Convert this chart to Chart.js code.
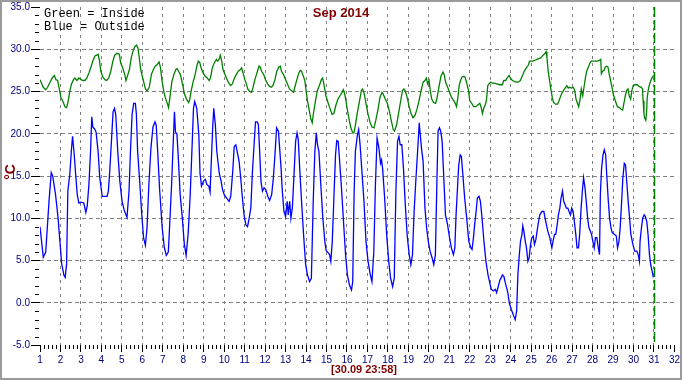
<!DOCTYPE html>
<html><head><meta charset="utf-8">
<script src="https://cdn.jsdelivr.net/npm/chart.js@4.4.1/dist/chart.umd.min.js"></script>
<style>html,body{margin:0;padding:0;background:#fff}#wrap{width:682px;height:380px;position:relative}canvas{display:block}</style>
</head><body><div id="wrap"><canvas id="c" width="682" height="380"></canvas></div>
<script>
const chartTitle = 'Sep 2014';
const stampLabel = '[30.09 23:58]';
const unitLabel = '°C';
const legendLines = ['Green = Inside', 'Blue = Outside'];
const dayTicks = [1,2,3,4,5,6,7,8,9,10,11,12,13,14,15,16,17,18,19,20,21,22,23,24,25,26,27,28,29,30,31,32];
const tempTicks = [-5,0,5,10,15,20,25,30,35];
const markerDay = 31;

const outsideDays = [1.00,1.16,1.28,1.44,1.55,1.62,1.76,1.88,1.97,2.06,2.17,2.23,2.30,2.36,2.46,2.53,2.59,2.66,2.74,2.82,2.90,3.01,3.14,3.24,3.31,3.39,3.47,3.53,3.58,3.66,3.74,3.84,3.92,4.04,4.28,4.34,4.41,4.49,4.57,4.64,4.70,4.80,4.90,5.01,5.12,5.25,5.35,5.42,5.50,5.58,5.66,5.71,5.77,5.87,5.97,6.06,6.15,6.23,6.32,6.42,6.52,6.62,6.68,6.75,6.84,6.97,7.07,7.17,7.27,7.33,7.43,7.53,7.57,7.62,7.69,7.75,7.85,7.95,8.05,8.14,8.24,8.34,8.44,8.50,8.56,8.66,8.76,8.82,8.89,8.99,9.08,9.15,9.25,9.31,9.39,9.44,9.49,9.57,9.64,
9.76,9.84,9.92,10.00,10.11,10.24,10.32,10.41,10.49,10.57,10.65,10.73,10.81,10.89,10.97,11.06,11.14,11.22,11.30,11.38,11.46,11.53,11.61,11.67,11.74,11.80,11.87,11.95,12.03,12.13,12.22,12.32,12.40,12.48,12.56,12.65,12.71,12.78,12.84,12.92,13.00,13.08,13.13,13.20,13.26,13.33,13.41,13.49,13.56,13.62,13.69,13.78,13.88,13.98,14.07,14.17,14.26,14.35,14.43,14.50,14.56,14.63,14.72,14.82,14.92,14.98,15.05,15.15,15.21,15.28,15.36,15.44,15.50,15.57,15.63,15.73,15.83,15.93,16.02,16.12,16.22,16.28,16.35,16.41,16.51,16.57,16.64,16.72,16.83,16.93,17.03,17.14,17.22,17.31,17.39,17.47,17.56,17.64,17.69,17.74,17.84,17.94,18.04,18.13,18.23,18.31,18.39,18.47,18.54,18.60,18.68,18.76,18.84,18.94,19.04,19.12,19.20,19.28,19.37,19.45,
19.53,19.58,19.64,19.72,19.81,19.89,19.97,20.06,20.16,20.24,20.32,20.39,20.45,20.52,20.58,20.65,20.71,20.81,20.91,21.01,21.10,21.20,21.27,21.33,21.40,21.46,21.53,21.59,21.66,21.75,21.85,21.95,22.05,22.11,22.18,22.24,22.31,22.37,22.45,22.52,22.60,22.69,22.79,22.89,22.99,23.05,23.15,23.25,23.31,23.38,23.46,23.54,23.60,23.67,23.73,23.80,23.86,23.93,24.03,24.12,24.22,24.29,24.35,24.42,24.48,24.55,24.59,24.64,24.71,24.77,24.84,24.90,24.97,25.03,25.10,25.16,25.23,25.29,25.36,25.42,25.52,25.62,25.68,25.75,25.81,25.91,26.01,26.07,26.14,26.20,26.27,26.33,26.40,26.46,26.53,26.59,26.66,26.72,26.79,26.85,26.92,26.98,27.05,27.11,27.18,27.24,27.31,27.37,27.44,27.50,27.56,27.63,27.69,27.76,27.82,27.89,27.95,28.01,28.08,28.14,28.21,28.28,28.34,28.38,28.44,28.51,28.57,28.64,28.70,28.77,28.83,28.90,28.96,29.06,29.16,29.22,29.29,29.35,29.42,29.48,29.55,29.61,29.68,29.74,29.81,29.87,29.97,30.06,30.16,30.23,30.29,30.32,30.39,30.45,30.52,30.58,30.65,30.71,30.78,30.84,30.91,30.97];
const outsideTemps = [9.0,5.4,6.0,12.0,15.4,15.0,12.8,10.1,7.35,4.6,3.25,3.0,4.6,13.2,15.3,17.9,19.7,17.9,15.3,12.8,11.8,11.9,11.8,10.7,11.5,14.0,17.9,22.0,20.8,20.6,20.2,17.9,14.8,12.6,12.6,13.2,15.7,19.1,22.6,23.0,22.3,17.9,14.4,12.0,10.9,10.1,13.2,17.9,22.3,23.6,23.6,22.3,17.9,14.4,10.5,7.7,6.8,8.9,14.0,18.3,20.8,21.4,21.0,17.9,13.6,8.9,6.6,5.6,6.0,8.9,14.0,20.2,22.6,20.2,20.0,17.5,12.8,10.1,7.0,5.6,8.2,12.8,19.1,23.0,23.8,23.0,19.9,15.3,13.8,14.4,14.6,14.0,13.8,13.1,17.9,20.8,23.0,21.0,17.9,
15.3,14.5,13.4,12.8,12.4,12.0,12.6,15.3,18.5,18.7,17.7,16.7,14.7,12.4,10.4,9.2,9.0,10.0,11.2,15.5,18.7,21.4,21.4,21.1,17.5,14.3,13.2,13.6,13.4,12.6,12.1,12.8,14.7,17.5,20.7,20.3,18.3,15.9,13.2,10.8,10.2,12.0,10.4,12.0,10.0,11.2,15.1,19.1,20.1,19.3,15.9,12.0,8.0,4.5,3.3,2.5,2.9,12.0,17.9,20.1,18.7,17.9,14.0,10.0,7.2,6.2,6.0,5.7,4.9,7.2,12.4,17.5,19.2,19.1,17.1,13.6,9.6,5.7,3.3,2.1,1.5,2.5,13.2,17.9,19.9,20.5,18.7,15.9,12.0,7.2,4.9,3.3,2.5,6.0,14.0,19.5,18.3,16.5,16.9,15.9,12.4,8.0,4.9,2.9,1.9,2.9,13.2,19.1,19.7,18.7,18.7,15.9,12.0,8.0,5.7,4.5,5.7,10.8,14.7,17.9,
21.3,19.9,18.3,16.7,11.2,8.9,7.3,6.1,5.3,4.5,5.7,14.0,20.3,20.7,20.3,19.1,15.9,10.4,9.3,7.7,6.5,5.7,6.5,10.4,13.6,16.3,17.5,17.3,15.2,12.4,10.0,7.3,6.5,6.3,7.7,9.3,10.8,12.4,12.6,12.0,10.0,7.3,4.9,3.3,2.2,1.6,1.4,1.6,1.2,1.8,2.6,3.0,3.3,3.1,2.4,1.8,1.2,0.0,-0.8,-1.4,-2.0,-1.0,3.3,5.7,7.3,8.1,9.1,8.5,7.3,6.5,4.9,5.3,6.9,7.7,7.9,6.9,7.5,8.5,9.6,10.4,10.8,10.8,10.0,9.2,8.5,7.7,6.5,7.3,8.1,8.1,9.2,10.4,11.2,12.4,13.2,12.0,11.6,11.2,11.2,10.8,10.4,11.2,10.8,9.6,8.1,6.5,6.5,8.1,11.2,13.2,14.8,13.6,12.0,10.0,8.9,8.5,8.1,7.3,6.5,7.7,7.7,6.5,5.7,12.8,15.9,17.5,18.1,17.5,14.8,12.0,10.0,8.9,8.3,8.1,7.9,6.5,7.3,8.9,12.0,14.8,16.5,16.3,14.0,12.0,10.0,8.1,6.9,6.1,6.1,5.7,4.9,7.3,8.9,10.0,10.4,10.2,9.6,8.1,5.7,4.5,3.7,3.0];

const insideDays = [1.00,1.16,1.28,1.37,1.49,1.60,1.70,1.78,1.86,1.93,2.02,2.14,2.22,2.30,2.38,2.46,2.54,2.64,2.70,2.80,2.90,3.00,3.11,3.19,3.29,3.39,3.48,3.58,3.68,3.77,3.84,3.91,3.97,4.07,4.17,4.26,4.36,4.46,4.56,4.65,4.75,4.81,4.88,4.94,5.04,5.14,5.20,5.27,5.37,5.46,5.56,5.63,5.72,5.79,5.85,5.92,5.98,6.05,6.15,6.24,6.34,6.44,6.54,6.63,6.73,6.82,6.89,6.96,7.06,7.12,7.22,7.28,7.35,7.44,7.54,7.64,7.70,7.77,7.86,7.96,8.06,8.16,8.26,8.32,8.39,8.48,8.58,8.68,8.74,8.81,8.87,8.97,9.07,9.17,9.26,9.33,9.42,9.52,9.62,9.68,9.75,9.81,9.88,9.94,10.01,10.11,10.20,10.31,10.40,10.50,10.59,10.69,10.79,10.85,10.92,11.01,11.11,
11.15,11.24,11.34,11.41,11.50,11.60,11.70,11.76,11.83,11.93,12.02,12.12,12.22,12.31,12.38,12.48,12.57,12.67,12.74,12.80,12.90,13.00,13.09,13.19,13.29,13.39,13.45,13.55,13.65,13.71,13.78,13.84,13.94,14.00,14.07,14.17,14.23,14.30,14.36,14.46,14.55,14.65,14.75,14.81,14.87,14.97,15.07,15.17,15.27,15.36,15.46,15.56,15.66,15.76,15.82,15.89,15.95,16.02,16.11,16.18,16.28,16.34,16.41,16.50,16.60,16.70,16.76,16.83,16.93,17.02,17.12,17.22,17.32,17.41,17.51,17.61,17.71,17.77,17.87,17.97,18.06,18.16,18.26,18.32,18.42,18.52,18.61,18.71,18.78,18.84,18.94,19.04,19.13,19.23,19.33,19.43,19.52,19.62,19.72,19.81,19.88,19.94,20.01,20.07,20.14,20.23,20.33,20.39,20.49,20.59,20.69,20.75,20.82,20.92,21.01,21.11,
21.22,21.29,21.35,21.42,21.48,21.55,21.61,21.71,21.77,21.84,21.94,22.00,22.10,22.19,22.29,22.39,22.49,22.55,22.62,22.68,22.75,22.81,22.88,22.94,23.01,23.10,23.20,23.33,23.46,23.59,23.66,23.75,23.85,23.92,23.98,24.08,24.18,24.27,24.37,24.47,24.56,24.66,24.76,24.86,24.92,24.99,25.08,25.18,25.28,25.38,25.48,25.58,25.67,25.73,25.77,25.83,25.90,25.96,26.03,26.09,26.19,26.29,26.39,26.48,26.58,26.68,26.74,26.81,26.87,26.97,27.06,27.13,27.19,27.26,27.32,27.39,27.45,27.52,27.58,27.65,27.71,27.81,27.88,27.94,28.04,28.14,28.23,28.33,28.40,28.43,28.49,28.56,28.62,28.69,28.75,28.82,28.88,28.95,29.01,29.11,29.21,29.31,29.40,29.47,29.53,29.60,29.66,29.73,29.79,29.86,29.92,29.99,30.08,30.18,30.27,30.38,30.44,30.47,30.51,30.54,30.60,30.64,30.67,30.73,30.79,30.86,30.92,30.99];
const insideTemps = [26.4,25.5,25.2,25.5,26.1,26.6,26.9,26.4,26.3,25.5,24.3,23.7,23.2,23.1,23.9,25.1,25.9,26.4,26.6,26.3,26.6,26.4,26.3,26.3,26.6,27.2,27.8,28.6,29.2,29.3,29.4,28.6,27.4,26.7,26.4,26.3,26.6,27.4,28.6,29.3,29.5,29.5,29.4,28.4,27.8,27.0,26.3,26.8,27.6,29.0,29.9,30.3,30.5,30.1,29.0,27.6,27.0,26.3,25.3,25.1,25.5,27.0,27.6,28.0,28.2,28.5,27.8,26.3,24.9,24.3,23.6,23.1,24.3,26.1,27.0,27.6,27.7,27.4,27.0,25.9,24.7,24.1,23.7,24.1,25.1,26.1,27.0,28.2,28.6,28.4,27.8,27.2,26.8,26.6,26.3,26.6,27.8,28.4,28.8,28.6,28.8,29.3,28.6,27.6,27.2,26.6,26.1,25.7,25.9,26.6,27.0,27.4,27.6,27.8,27.2,26.4,25.7,
25.3,25.0,24.9,25.5,26.4,27.2,28.0,27.9,27.4,27.0,26.4,25.9,25.6,25.5,25.7,26.4,27.4,27.9,28.0,27.4,27.0,26.4,25.9,25.3,25.1,24.9,25.5,26.4,27.2,27.5,27.4,27.0,26.3,25.1,23.9,22.6,21.8,21.3,22.4,23.9,25.1,25.7,26.4,26.6,25.9,24.5,23.7,23.0,22.3,22.4,23.4,24.1,24.5,24.9,25.2,24.7,23.9,22.8,21.6,20.8,20.1,20.1,21.0,22.4,23.7,25.1,25.3,24.9,23.6,22.4,21.4,20.8,20.7,21.6,22.8,24.3,24.9,24.7,24.1,23.6,22.8,21.6,20.5,20.3,21.0,22.4,23.7,25.1,25.3,25.1,24.3,23.2,22.4,21.9,22.2,23.0,23.9,25.1,26.1,26.3,26.6,25.9,26.3,25.1,24.1,23.7,23.6,24.1,25.5,26.8,27.3,27.0,26.1,25.5,24.9,24.3,
23.9,23.6,23.2,24.3,25.7,26.3,26.7,26.8,26.7,26.1,25.1,23.9,23.6,23.2,23.2,23.4,23.6,23.2,22.4,23.0,23.4,23.9,25.7,25.9,26.1,26.0,26.0,25.9,25.8,25.8,26.3,26.3,26.7,26.9,26.6,26.3,26.2,26.1,26.1,26.3,26.8,27.4,27.8,28.1,28.6,28.6,28.6,28.7,28.8,28.9,29.0,29.3,29.5,29.7,29.0,27.4,26.3,25.3,24.3,23.7,23.5,23.5,24.1,24.7,25.1,25.5,25.7,25.4,25.5,25.4,25.5,25.1,24.1,23.6,23.2,24.1,25.3,24.5,25.5,26.6,27.4,28.0,28.4,28.6,28.6,28.6,28.6,28.7,28.8,27.1,27.4,27.5,27.9,28.0,27.9,27.0,26.3,25.5,24.7,23.9,23.2,23.1,22.9,22.8,23.6,24.5,25.1,25.3,24.5,24.1,25.1,25.7,25.8,25.8,25.6,25.5,25.3,23.9,22.4,21.9,21.6,22.6,24.3,25.3,25.9,26.4,26.7,26.9];

const toPoints = (xs, ys) => xs.map((x, i) => ({x: x, y: ys[i]}));

const NAVY = '#000080';
const DARKRED = '#800000';
const GRID = '#808080';
const SANS = '"Liberation Sans", Arial, sans-serif';
const MONO = '"Liberation Mono", "Courier New", monospace';

const decorPlugin = {
  id: 'decor',
  beforeDraw(chart) {
    const ctx = chart.ctx;
    ctx.save();
    ctx.fillStyle = '#fff';
    ctx.fillRect(0, 0, chart.width, chart.height);
    ctx.restore();
  },
  afterDatasetsDraw(chart) {
    const ctx = chart.ctx;
    const xs = chart.scales.x;
    const a = chart.chartArea;
    const mx = Math.round(xs.getPixelForValue(markerDay)) + 0.5;
    ctx.save();
    ctx.strokeStyle = '#008000';
    ctx.lineWidth = 1.5;
    ctx.setLineDash([10, 3]);
    ctx.beginPath();
    ctx.moveTo(mx, a.top);
    ctx.lineTo(mx, a.bottom);
    ctx.stroke();
    ctx.restore();
  },
  afterDraw(chart) {
    const ctx = chart.ctx;
    const xs = chart.scales.x, ys = chart.scales.y;
    const a = chart.chartArea;
    ctx.save();
    ctx.strokeStyle = '#000';
    ctx.lineWidth = 1;
    ctx.beginPath();
    for (let v = tempTicks[0]; v < tempTicks[tempTicks.length - 1]; v++) {
      if (v % 5 === 0) continue;
      const y = Math.round(ys.getPixelForValue(v)) + 0.5;
      ctx.moveTo(a.left - 5, y);
      ctx.lineTo(a.left - 1, y);
    }
    for (let d = dayTicks[0]; d < dayTicks[dayTicks.length - 1]; d++) {
      for (let k = 1; k < 5; k++) {
        const x = Math.round(xs.getPixelForValue(d + k / 5)) + 0.5;
        ctx.moveTo(x, a.bottom);
        ctx.lineTo(x, a.bottom + 4);
      }
    }
    ctx.stroke();
    ctx.strokeStyle = '#9a9a9a';
    ctx.lineWidth = 2;
    ctx.strokeRect(1, 1, chart.width - 2, chart.height - 2);
    ctx.fillStyle = DARKRED;
    ctx.font = 'bold 13px ' + SANS;
    ctx.textAlign = 'center';
    ctx.textBaseline = 'middle';
    ctx.fillText(chartTitle, 341, 13);
    ctx.font = 'bold 11px ' + SANS;
    ctx.fillText(stampLabel, 364, 370);
    ctx.save();
    ctx.translate(11, 172);
    ctx.rotate(-Math.PI / 2);
    ctx.font = 'bold 14px ' + SANS;
    ctx.fillText(unitLabel, 0, 0);
    ctx.restore();
    ctx.fillStyle = '#000';
    ctx.font = '12px ' + MONO;
    ctx.textAlign = 'left';
    ctx.textBaseline = 'alphabetic';
    ctx.fillText(legendLines[0], 44, 17);
    ctx.fillText(legendLines[1], 44, 30);
    ctx.restore();
  }
};

const edgeColor = (ticksArr) => (c) => {
  const v = c.tick ? c.tick.value : null;
  return (v === ticksArr[0] || v === ticksArr[ticksArr.length - 1]) ? 'rgba(0,0,0,0)' : GRID;
};

new Chart(document.getElementById('c'), {
  type: 'line',
  data: {
    datasets: [
      {label: 'Inside', data: toPoints(insideDays, insideTemps), borderColor: '#008000', borderWidth: 1.3, pointRadius: 0, tension: 0, fill: false},
      {label: 'Outside', data: toPoints(outsideDays, outsideTemps), borderColor: '#0000ff', borderWidth: 1.3, pointRadius: 0, tension: 0, fill: false}
    ]
  },
  options: {
    responsive: false,
    devicePixelRatio: 1,
    animation: false,
    events: [],
    layout: {padding: {top: 4, right: 5.6, left: 0, bottom: 0}},
    plugins: {legend: {display: false}, title: {display: false}, tooltip: {enabled: false}},
    scales: {
      x: {
        type: 'linear', min: dayTicks[0], max: dayTicks[dayTicks.length - 1],
        afterBuildTicks: (s) => { s.ticks = dayTicks.map(v => ({value: v})); },
        afterFit: (s) => { s.height = 35; },
        border: {display: false, dash: [3, 4]},
        grid: {color: edgeColor(dayTicks), lineWidth: 1, tickColor: '#000', tickLength: 7, drawTicks: true},
        ticks: {color: NAVY, font: {family: SANS, size: 10}, padding: 2, maxRotation: 0, autoSkip: false, callback: (v) => String(v)}
      },
      y: {
        type: 'linear', min: tempTicks[0], max: tempTicks[tempTicks.length - 1],
        afterBuildTicks: (s) => { s.ticks = tempTicks.map(v => ({value: v})); },
        afterFit: (s) => { s.width = 40; },
        border: {display: false, dash: [4, 3]},
        grid: {color: edgeColor(tempTicks), lineWidth: 1, tickColor: '#000', tickLength: 9, drawTicks: true},
        ticks: {color: NAVY, font: {family: SANS, size: 10}, padding: 1, autoSkip: false, callback: (v) => Number(v).toFixed(1)}
      }
    }
  },
  plugins: [decorPlugin]
});
</script>
</body></html>
